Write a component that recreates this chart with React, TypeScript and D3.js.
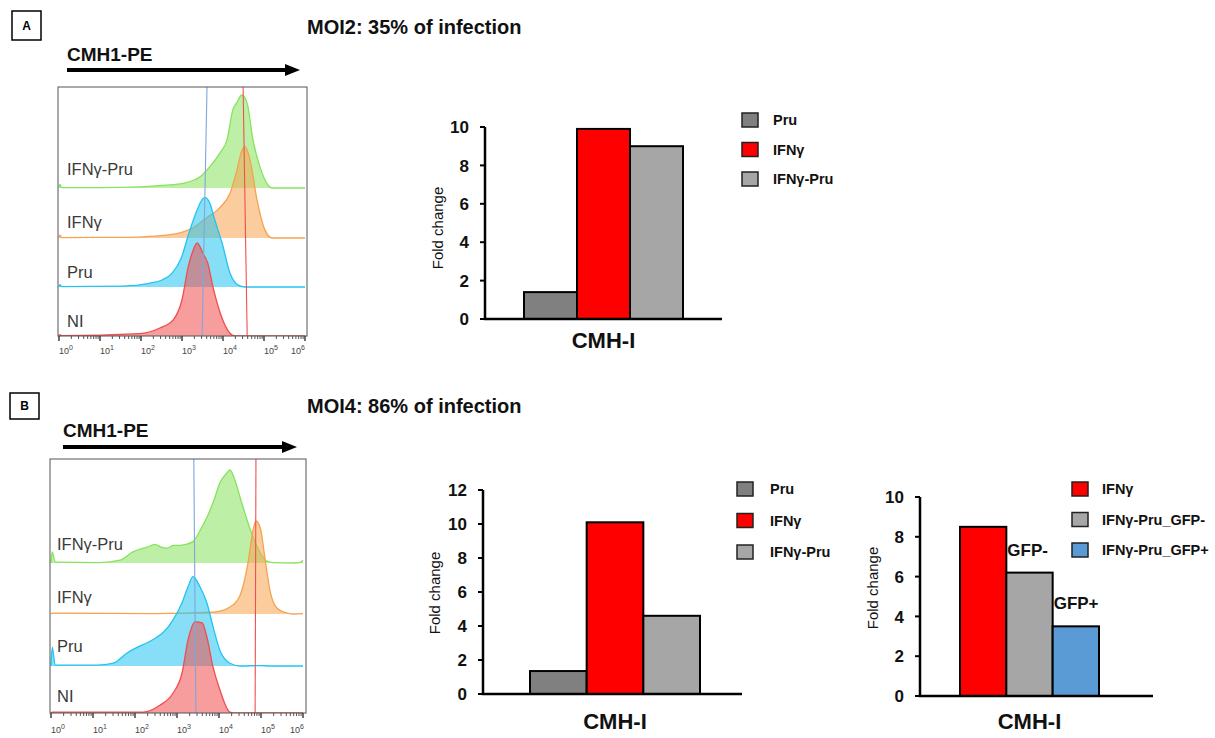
import React from "react";
import * as d3 from "d3";

type Pt = [number, number];

// ---------- Flow cytometry histograms: [log10 CMH1-PE intensity, % of max count]
// Panel A (MOI2)
const histA_IFNgPru: Pt[] = [[0,0],[0.02,4],[0.07,0.5],[1.0,0.5],[1.98,1.2],[2.6,3],[3.02,5],[3.44,12],[3.68,23],[3.93,38],[4.1,52],[4.24,84],[4.34,92],[4.46,100],[4.59,91],[4.73,52],[4.9,23],[5.07,5],[5.2,0],[6,0]];
const histA_IFNg: Pt[] = [[0,0],[0.02,3],[0.07,0.5],[1.5,0.7],[2.05,1.2],[2.6,3],[2.95,5.5],[3.27,11],[3.61,22],[3.93,33],[4.17,48],[4.34,73],[4.46,94],[4.54,98],[4.66,84],[4.83,41],[5.02,9],[5.2,0],[6,0]];
const histA_Pru: Pt[] = [[0,0],[0.02,2.5],[0.07,0.5],[1.56,1],[2.2,4],[2.51,7.5],[2.76,15],[2.98,31],[3.17,58],[3.37,83],[3.49,94],[3.56,96],[3.68,90],[3.8,72],[3.98,47],[4.17,15],[4.37,2],[4.54,0],[6,0]];
const histA_NI: Pt[] = [[0,0],[0.02,1.5],[0.07,0.3],[1.96,2.5],[2.46,8.6],[2.78,17],[3.0,39],[3.15,74],[3.27,92],[3.37,100],[3.51,89],[3.63,78],[3.76,52],[3.93,25],[4.17,3],[4.3,0],[6,0]];
// Panel B (MOI4)
const histB_IFNgPru: Pt[] = [[0,0],[0.03,12],[0.1,1],[1.17,0.5],[1.64,3],[1.95,12],[2.29,17],[2.48,20],[2.62,17],[2.76,16],[2.92,19],[3.07,19],[3.2,20],[3.38,23],[3.55,35],[3.71,49],[3.86,65],[4.02,86],[4.19,97],[4.26,100],[4.38,89],[4.5,71],[4.67,46],[4.81,28],[4.98,11],[5.14,2],[5.29,0.5],[5.8,0],[5.95,1],[6,3]];
const histB_IFNg: Pt[] = [[0,0],[0.03,1],[2.5,0.5],[3.86,2],[4.26,7.5],[4.5,20],[4.69,55],[4.81,90],[4.88,100],[4.98,93],[5.1,58],[5.21,26],[5.38,6.5],[5.62,1],[5.8,0],[6,0.5]];
const histB_Pru: Pt[] = [[0,0],[0.03,20],[0.1,1],[1.1,1],[1.48,3],[1.81,14],[2.05,20],[2.29,25],[2.52,31],[2.67,36],[2.9,49],[3.12,68],[3.26,85],[3.38,96],[3.55,85],[3.71,68],[3.86,42],[4.02,17],[4.26,3],[4.5,0],[5.0,0.5],[5.2,0],[6,0]];
const histB_NI: Pt[] = [[0,0],[0.03,1],[2.19,1],[2.6,8.6],[2.9,21],[3.12,43],[3.26,78],[3.43,98],[3.6,97],[3.71,82],[3.86,49],[4.02,25],[4.26,1],[4.4,0],[6,0]];

const histRowLabels = ["IFNγ-Pru", "IFNγ", "Pru", "NI"];
const histColors = ["#86e35c", "#f6a24e", "#22c4f0", "#f24c4c"];
const axisDecades = [0, 1, 2, 3, 4, 5, 6];
// gate markers: [log10 at top of plot, log10 at bottom]
const markersA_blue: Pt = [3.61, 3.49];
const markersA_red: Pt = [4.49, 4.59];
const markersB_blue: Pt = [3.40, 3.45];
const markersB_red: Pt = [4.88, 4.86];

// ---------- Bar charts (fold change of CMH-I)
const barCats = ["Pru", "IFNγ", "IFNγ-Pru"];
const barValsA = [1.4, 9.9, 9.0];
const barValsB = [1.35, 10.1, 4.6];
const barColors = ["#808080", "#ff0000", "#a6a6a6"];
const gfpCats = ["IFNγ", "IFNγ-Pru_GFP-", "IFNγ-Pru_GFP+"];
const gfpVals = [8.5, 6.2, 3.5];
const gfpColors = ["#ff0000", "#a6a6a6", "#5b9bd5"];
const gfpAnnot = ["", "GFP-", "GFP+"];
const ticks10 = [0, 2, 4, 6, 8, 10];
const ticks12 = [0, 2, 4, 6, 8, 10, 12];

const SANS = "'Liberation Sans', Arial, sans-serif";

type HistCfg = {
  left: number; right: number; top: number; bottom: number;
  x0: number; x1: number;
  baselines: number[]; peakPx: number;
  series: Pt[][]; blue: Pt; red: Pt;
  labelX: number; labelYs: number[]; tickLabelY: number; id: string;
};

function Histogram({ cfg }: { cfg: HistCfg }) {
  const x = d3.scaleLog().domain([1, 1e6]).range([cfg.x0, cfg.x1]);
  const px = (d: number) => x(Math.pow(10, d));
  const minor: number[] = [];
  for (let dd = 0; dd < 6; dd++) for (let k = 2; k <= 9; k++) minor.push(k * Math.pow(10, dd));
  return (
    <g>
      <defs>
        <clipPath id={"clip" + cfg.id}>
          <rect x={cfg.left} y={cfg.top} width={cfg.right - cfg.left} height={cfg.bottom - cfg.top} />
        </clipPath>
      </defs>
      <g clipPath={`url(#clip${cfg.id})`}>
        {cfg.series.map((s, i) => {
          const base = cfg.baselines[i];
          const y = d3.scaleLinear().domain([0, 100]).range([base, base - cfg.peakPx]);
          const area = d3.area<Pt>().x(d => px(d[0])).y0(base).y1(d => y(d[1])).curve(d3.curveMonotoneX);
          const line = d3.line<Pt>().x(d => px(d[0])).y(d => y(d[1])).curve(d3.curveMonotoneX);
          return (
            <g key={i}>
              <path d={area(s) || ""} fill={histColors[i]} fillOpacity={0.55} />
              <path d={line(s) || ""} fill="none" stroke={histColors[i]} strokeWidth={1.3} />
            </g>
          );
        })}
        <line x1={px(cfg.blue[0])} y1={cfg.top} x2={px(cfg.blue[1])} y2={cfg.bottom} stroke="#7fa7dc" strokeWidth={1.1} />
        <line x1={px(cfg.red[0])} y1={cfg.top} x2={px(cfg.red[1])} y2={cfg.bottom} stroke="#f05050" strokeWidth={1.1} />
      </g>
      {histRowLabels.map((t, i) => (
        <text key={t} x={cfg.labelX} y={cfg.labelYs[i]} fontFamily={SANS} fontSize={16.5} fill="#3a3a3a">{t}</text>
      ))}
      <rect x={cfg.left} y={cfg.top} width={cfg.right - cfg.left} height={cfg.bottom - cfg.top} fill="none" stroke="#555" strokeWidth={1} />
      {axisDecades.map(d => (
        <line key={"M" + d} x1={px(d)} x2={px(d)} y1={cfg.bottom} y2={cfg.bottom + 5} stroke="#333" strokeWidth={1.4} />
      ))}
      {minor.map(v => (
        <line key={"m" + v} x1={x(v)} x2={x(v)} y1={cfg.bottom} y2={cfg.bottom + 3} stroke="#444" strokeWidth={0.9} />
      ))}
      {axisDecades.map(d => (
        <text key={"t" + d} x={Math.min(px(d) + 7, cfg.right - 9)} y={cfg.tickLabelY} fontFamily={SANS} fontSize={9} fill="#444" textAnchor="middle">
          10<tspan dy={-4} fontSize={7}>{d}</tspan>
        </text>
      ))}
    </g>
  );
}

type BarCfg = {
  axisX: number; axisEnd: number; yBottom: number; yTop: number; max: number; ticks: number[];
  band: [number, number]; cats: string[]; vals: number[]; colors: string[];
  foldX: number; foldY: number; cmhY: number;
  legX: number; legY: number; legStep: number; legLabelX: number; annot?: string[];
};

function BarChart({ cfg }: { cfg: BarCfg }) {
  const y = d3.scaleLinear().domain([0, cfg.max]).range([cfg.yBottom, cfg.yTop]);
  const xb = d3.scaleBand().domain(cfg.cats).range(cfg.band).padding(0);
  const bw = xb.bandwidth();
  return (
    <g>
      {cfg.cats.map((c, i) => (
        <rect key={c} x={xb(c)} y={y(cfg.vals[i])} width={bw} height={y(0) - y(cfg.vals[i])} fill={cfg.colors[i]} stroke="#000" strokeWidth={2} />
      ))}
      {cfg.annot && cfg.cats.map((c, i) => cfg.annot![i] ? (
        <text key={"a" + c} x={(xb(c) as number) + 1} y={y(cfg.vals[i]) - 17} fontFamily={SANS} fontWeight="bold" fontSize={17} fill="#111">{cfg.annot![i]}</text>
      ) : null)}
      <line x1={cfg.axisX} x2={cfg.axisX} y1={y(cfg.max)} y2={y(0)} stroke="#000" strokeWidth={2.5} />
      <line x1={cfg.axisX - 1.2} x2={cfg.axisEnd} y1={y(0)} y2={y(0)} stroke="#000" strokeWidth={2.5} />
      {cfg.ticks.map(t => (
        <g key={t}>
          <line x1={cfg.axisX - 5} x2={cfg.axisX} y1={y(t)} y2={y(t)} stroke="#000" strokeWidth={2} />
          <text x={cfg.axisX - 16} y={y(t)} dy="0.36em" textAnchor="end" fontFamily={SANS} fontWeight="bold" fontSize={17} fill="#111">{t}</text>
        </g>
      ))}
      <text transform={`translate(${cfg.foldX},${cfg.foldY}) rotate(-90)`} textAnchor="middle" dy="0.35em" fontFamily={SANS} fontSize={15} fill="#111">Fold change</text>
      <text x={(cfg.band[0] + cfg.band[1]) / 2} y={cfg.cmhY} textAnchor="middle" fontFamily={SANS} fontWeight="bold" fontSize={22} fill="#111">CMH-I</text>
      {cfg.cats.map((c, i) => (
        <g key={"l" + c}>
          <rect x={cfg.legX} y={cfg.legY + i * cfg.legStep} width={16} height={14} fill={cfg.colors[i]} stroke="#222" strokeWidth={1.5} />
          <text x={cfg.legLabelX} y={cfg.legY + i * cfg.legStep + 7} dy="0.36em" fontFamily={SANS} fontWeight="bold" fontSize={14.5} fill="#111">{c}</text>
        </g>
      ))}
    </g>
  );
}

function Arrow({ x1, x2, y }: { x1: number; x2: number; y: number }) {
  return (
    <g>
      <line x1={x1} x2={x2 - 12} y1={y} y2={y} stroke="#000" strokeWidth={4} />
      <polygon points={`${x2 - 15},${y - 6} ${x2},${y} ${x2 - 15},${y + 6}`} fill="#000" />
    </g>
  );
}

export default function App() {
  const histA: HistCfg = {
    left: 58, right: 307, top: 87, bottom: 336, x0: 59, x1: 305,
    baselines: [188, 238, 287, 336], peakPx: 93,
    series: [histA_IFNgPru, histA_IFNg, histA_Pru, histA_NI],
    blue: markersA_blue, red: markersA_red,
    labelX: 67, labelYs: [175, 228, 278, 327], tickLabelY: 354, id: "A",
  };
  const histB: HistCfg = {
    left: 50, right: 306, top: 459, bottom: 713, x0: 51, x1: 303,
    baselines: [563, 614, 666, 713], peakPx: 93,
    series: [histB_IFNgPru, histB_IFNg, histB_Pru, histB_NI],
    blue: markersB_blue, red: markersB_red,
    labelX: 57, labelYs: [550, 603, 652, 702], tickLabelY: 733, id: "B",
  };
  const barA: BarCfg = {
    axisX: 485, axisEnd: 722, yBottom: 319, yTop: 127, max: 10, ticks: ticks10,
    band: [524, 683], cats: barCats, vals: barValsA, colors: barColors,
    foldX: 438, foldY: 228, cmhY: 348, legX: 742, legY: 113, legStep: 29.5, legLabelX: 773,
  };
  const barB: BarCfg = {
    axisX: 483, axisEnd: 742, yBottom: 694, yTop: 490, max: 12, ticks: ticks12,
    band: [530, 700], cats: barCats, vals: barValsB, colors: barColors,
    foldX: 435, foldY: 593, cmhY: 729, legX: 737, legY: 482, legStep: 31.5, legLabelX: 770,
  };
  const barC: BarCfg = {
    axisX: 920, axisEnd: 1153, yBottom: 696, yTop: 497, max: 10, ticks: ticks10,
    band: [960, 1099], cats: gfpCats, vals: gfpVals, colors: gfpColors,
    foldX: 873, foldY: 588, cmhY: 729, legX: 1072, legY: 482, legStep: 30.5, legLabelX: 1102, annot: gfpAnnot,
  };
  return (
    <div style={{ position: "absolute", left: 0, top: 0 }}>
      <svg width={1215} height={738} viewBox="0 0 1215 738" style={{ display: "block", background: "#fff" }}>
        <rect x={0} y={0} width={1215} height={738} fill="#fff" />
        {/* Panel A */}
        <rect x={12} y={11} width={29} height={29} fill="none" stroke="#000" strokeWidth={1.5} />
        <text x={26.5} y={25.5} dy="0.36em" textAnchor="middle" fontFamily={SANS} fontWeight="bold" fontSize={12}>A</text>
        <text x={307} y={34} fontFamily={SANS} fontWeight="bold" fontSize={20} fill="#111">MOI2: 35% of infection</text>
        <text x={67} y={61} fontFamily={SANS} fontWeight="bold" fontSize={19} fill="#111">CMH1-PE</text>
        <Arrow x1={67} x2={300} y={70} />
        <Histogram cfg={histA} />
        <BarChart cfg={barA} />
        {/* Panel B */}
        <rect x={10} y={393} width={29} height={26} fill="none" stroke="#000" strokeWidth={1.5} />
        <text x={24.5} y={406} dy="0.36em" textAnchor="middle" fontFamily={SANS} fontWeight="bold" fontSize={12}>B</text>
        <text x={307} y={413} fontFamily={SANS} fontWeight="bold" fontSize={20} fill="#111">MOI4: 86% of infection</text>
        <text x={63} y={437} fontFamily={SANS} fontWeight="bold" fontSize={19} fill="#111">CMH1-PE</text>
        <Arrow x1={63} x2={297} y={447} />
        <Histogram cfg={histB} />
        <BarChart cfg={barB} />
        <BarChart cfg={barC} />
      </svg>
    </div>
  );
}
